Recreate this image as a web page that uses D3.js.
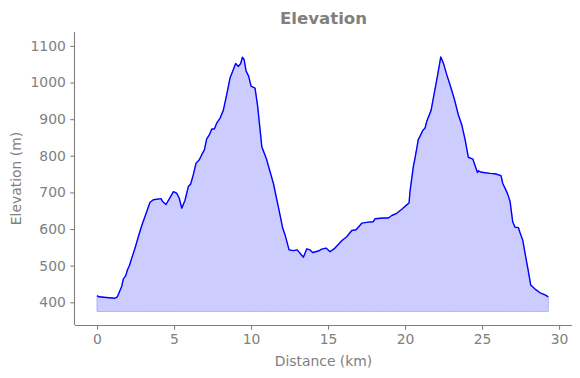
<!DOCTYPE html>
<html>
<head>
<meta charset="utf-8">
<script src="https://cdn.jsdelivr.net/npm/d3@7"></script>
<style>
  body { margin: 0; background: #fff; }
  text { font-family: "DejaVu Sans", sans-serif; }
</style>
</head>
<body>
<div id="chartHolder"></div>
<script>
// route profile
const distKm = [0, 0.13, 0.6, 1.17, 1.32, 1.6, 1.71, 1.86, 1.97, 2.1, 2.25, 2.47, 2.68, 2.9, 3.23, 3.44, 3.66,
  4.16, 4.26, 4.48, 4.74, 4.96, 5.17, 5.34, 5.5, 5.71, 5.93, 6.08, 6.25, 6.43, 6.64, 6.8, 6.97, 7.12, 7.29,
  7.45, 7.62, 7.77, 7.99, 8.2, 8.42, 8.64, 8.81, 9.0, 9.18, 9.33, 9.44, 9.55, 9.68, 9.85, 10.0, 10.26, 10.43,
  10.7, 11.02, 11.23, 11.45, 11.77, 12.06, 12.21, 12.47, 12.75, 13.0, 13.4, 13.62, 13.83, 14.0, 14.37, 14.59,
  14.87, 15.13, 15.45, 15.89, 16.21, 16.54, 16.82, 17.19, 17.62, 17.94, 18.05, 18.6, 18.92, 19.14, 19.46,
  19.79, 20.11, 20.26, 20.32, 20.54, 20.65, 20.86, 20.97, 21.15, 21.3, 21.41, 21.69, 21.84, 22.1, 22.32,
  22.49, 22.71, 22.92, 23.18, 23.46, 23.68, 23.9, 24.11, 24.4, 24.55, 24.7, 24.76, 24.98, 25.52, 25.84,
  26.23, 26.34, 26.64, 26.82, 26.99, 27.14, 27.36, 27.47, 27.64, 27.79, 28.01, 28.16, 28.44, 28.77, 29.09, 29.3];
const eleM = [418, 415, 413, 411, 415, 443, 464, 472, 488, 500, 520, 548, 579, 609, 648, 673, 680,
  683, 675, 667, 686, 702, 698, 684, 657, 678, 716, 723, 748, 780, 789, 803, 816, 846, 857,
  873, 873, 889, 903, 924, 967, 1013, 1031, 1052, 1044, 1052, 1069, 1063, 1031, 1017, 990, 985, 935,
  825, 789, 757, 725, 661, 602, 584, 543, 541, 543, 523, 546, 543, 536, 540, 545,
  548, 538, 548, 568, 579, 596, 598, 616, 619, 620, 628, 630, 630, 637, 643,
  654, 666, 671, 702, 771, 794, 844, 853, 869, 876, 894, 924, 958, 1017, 1070,
  1053, 1021, 994, 958, 912, 885, 844, 796, 791, 773, 754, 759, 755, 752, 751,
  746, 725, 698, 675, 620, 605, 604, 589, 570, 534, 484, 447, 436, 426, 420, 415];
const fillBase = 375;
const xTicks = [0, 5, 10, 15, 20, 25, 30];
const yTicks = [400, 500, 600, 700, 800, 900, 1000, 1100];

const width = 580;
const height = 378;
const grey = "#808080";

const svg = d3.select("#chartHolder")
  .append("svg")
  .attr("width", width)
  .attr("height", height);

const xScale = d3.scaleLinear().domain([-1.43, 30.84]).range([75, 572]);
const yScale = d3.scaleLinear().domain([338, 1138]).range([325, 32]);

const pts = distKm.map((d, i) => ({ x: d, y: eleM[i] }));

// filled area under the profile
const area = d3.area()
  .x(d => xScale(d.x))
  .y0(yScale(fillBase))
  .y1(d => yScale(d.y));
svg.append("path")
  .datum(pts)
  .attr("d", area)
  .attr("fill", "#ccccff")
  .attr("stroke", "#b3b3ff")
  .attr("stroke-width", 1);

const line = d3.line()
  .x(d => xScale(d.x))
  .y(d => yScale(d.y));
svg.append("path")
  .datum(pts)
  .attr("d", line)
  .attr("fill", "none")
  .attr("stroke", "#0000ff")
  .attr("stroke-width", 1.4)
  .attr("stroke-linejoin", "round");

// axes
const xAxis = d3.axisBottom(xScale).tickValues(xTicks).tickFormat(d3.format("d"))
  .tickSize(4.7).tickPadding(4.5).tickSizeOuter(0);
const gx = svg.append("g")
  .attr("transform", "translate(0,325)")
  .call(xAxis);

const yAxis = d3.axisLeft(yScale).tickValues(yTicks).tickFormat(d3.format("d"))
  .tickSize(4.7).tickPadding(4.5).tickSizeOuter(0);
const gy = svg.append("g")
  .attr("transform", "translate(75,0)")
  .call(yAxis);

[gx, gy].forEach(g => {
  g.selectAll("path, line").attr("stroke", grey).attr("stroke-width", 1.1);
  g.selectAll("text")
    .attr("fill", grey)
    .style("font-size", "13.9px")
    .style("font-family", "DejaVu Sans");
});
gx.select(".domain").attr("d", "M75,0.5H572");
gy.select(".domain").attr("d", "M-0.5,325V32");

// labels
svg.append("text")
  .attr("x", (75 + 572) / 2)
  .attr("y", 366)
  .attr("text-anchor", "middle")
  .style("font-size", "13.9px")
  .attr("fill", grey)
  .text("Distance (km)");

svg.append("text")
  .attr("transform", "rotate(-90)")
  .attr("x", -(32 + 325) / 2)
  .attr("y", 21)
  .attr("text-anchor", "middle")
  .style("font-size", "13.9px")
  .attr("fill", grey)
  .text("Elevation (m)");

svg.append("text")
  .attr("x", (75 + 572) / 2)
  .attr("y", 24)
  .attr("text-anchor", "middle")
  .style("font-size", "16.6px")
  .style("font-weight", "bold")
  .attr("fill", grey)
  .text("Elevation");
</script>
</body>
</html>
